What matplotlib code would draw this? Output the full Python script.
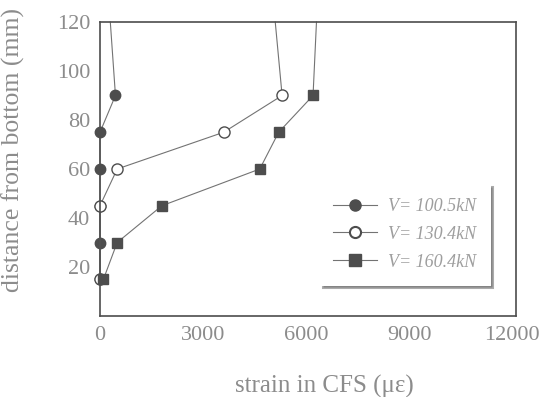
import matplotlib.pyplot as plt
from matplotlib.lines import Line2D

# valores (altura em mm, deformacao em micro-strain)
altura = [15, 30, 45, 60, 75, 90, 120]
strain_100 = [0, 0, 0, 0, 0, 450, 300]
altura_130 = [15, 45, 60, 75, 90, 120]
strain_130 = [0, 0, 500, 3600, 5300, 5100]
strain_160 = [100, 500, 1800, 4650, 5200, 6200, 6300]

rotulos = ["V= 100.5kN", "V= 130.4kN", "V= 160.4kN"]
x_ticks = [0, 3000, 6000, 9000, 12000]
y_ticks = [20, 40, 60, 80, 100, 120]

plt.rcParams["font.family"] = "Liberation Serif"
cinza_texto = "0.55"

fig = plt.figure(figsize=(5.54, 3.97), dpi=100)
ax = fig.add_axes([0.1805, 0.204, 0.7505, 0.7406])

estilo_linha = dict(color="0.45", linewidth=0.8, clip_on=False)
ax.plot(strain_100, altura, marker="o", markersize=7.5, markerfacecolor="0.3",
        markeredgecolor="0.3", markevery=list(range(6)), **estilo_linha)
ax.plot(strain_130, altura_130, marker="o", markersize=8, markerfacecolor="white",
        markeredgecolor="0.3", markeredgewidth=1.0, markevery=list(range(5)),
        **estilo_linha)
ax.plot(strain_160, altura, marker="s", markersize=7.5, markerfacecolor="0.3",
        markeredgecolor="0.3", markevery=list(range(6)), **estilo_linha)

ax.set_xlim(0, 12100)
ax.set_ylim(0, 120)
ax.set_xticks(x_ticks)
ax.set_yticks(y_ticks)
ax.tick_params(length=0, labelsize=16, labelcolor=cinza_texto, pad=7)
for sp in ax.spines.values():
    sp.set_color("0.3")
    sp.set_linewidth(1.2)

ax.set_xlabel("strain in CFS (\u03bc\u03b5)", fontsize=18, color=cinza_texto)
ax.xaxis.set_label_coords(0.54, -0.2)
ax.set_ylabel("distance from bottom (mm)", fontsize=18.5, color=cinza_texto)
ax.yaxis.set_label_coords(-0.18, 0.565)

# legenda
handles = [
    Line2D([], [], color="0.45", linewidth=0.8, marker="o", markersize=8,
           markerfacecolor="0.3", markeredgecolor="0.3"),
    Line2D([], [], color="0.45", linewidth=0.8, marker="o", markersize=8,
           markerfacecolor="white", markeredgecolor="0.3", markeredgewidth=1.5),
    Line2D([], [], color="0.45", linewidth=0.8, marker="s", markersize=8,
           markerfacecolor="0.3", markeredgecolor="0.3"),
]
leg = ax.legend(handles, rotulos, loc="lower right", bbox_to_anchor=(0.958, 0.078),
                fancybox=False, shadow={"color": "0.35"}, framealpha=1,
                edgecolor="white", handlelength=2.4, handletextpad=0.6,
                labelspacing=0.6, borderpad=0.75,
                prop={"style": "italic", "size": 13})
leg.get_frame().set_linewidth(2.2)
for t in leg.get_texts():
    t.set_color("0.62")

fig.savefig("out.png", dpi=100)
